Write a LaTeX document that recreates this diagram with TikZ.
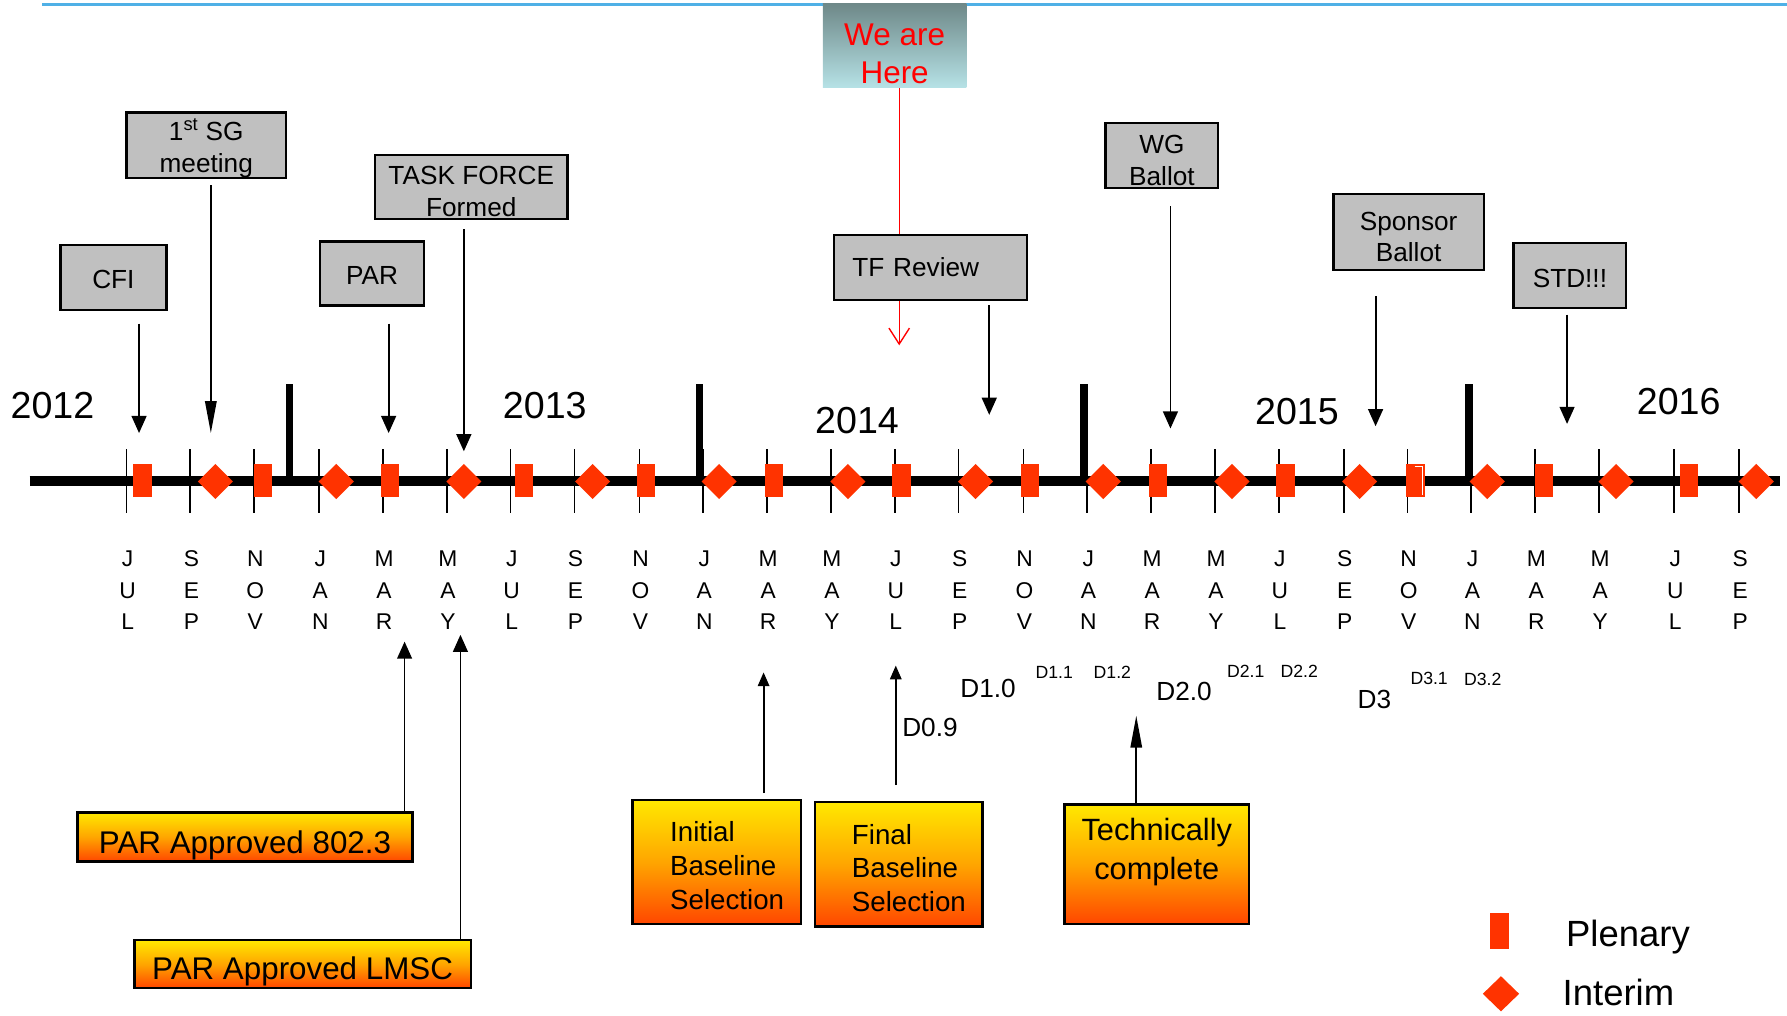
\documentclass[tikz,border=0pt]{standalone}
\usepackage{fontspec}
\setmainfont{Liberation Sans}
\usetikzlibrary{arrows.meta,shapes.geometric}
\tikzset{>=Latex}
\definecolor{markred}{RGB}{255,51,0}
\definecolor{boxgray}{RGB}{192,192,192}
\definecolor{topline}{RGB}{79,176,230}
\definecolor{heretop}{RGB}{110,136,136}
\definecolor{herebot}{RGB}{182,226,230}
\definecolor{goldtop}{RGB}{255,232,0}
\definecolor{goldmid}{RGB}{255,165,0}
\definecolor{goldbot}{RGB}{255,70,0}
\newcommand{\fsz}[2]{\fontsize{#1}{#2}\selectfont}
\newcommand{\lpad}{\hspace*{18pt}}
\newcommand{\tall}[1]{\rule{0pt}{#1}}

\begin{document}
\begin{tikzpicture}[x=1pt,y=-1pt,
    graybox/.style={draw,line width=2pt,fill=boxgray,align=center,inner sep=0pt,font=\fsz{23}{28}},
    goldbox/.style={draw,line width=2pt,top color=goldtop,bottom color=goldbot,middle color=goldmid,inner sep=0pt},
    plenary/.style={rectangle,fill=markred,minimum width=16pt,minimum height=29pt,inner sep=0pt},
    interim/.style={diamond,fill=markred,minimum width=31pt,minimum height=31pt,inner sep=0pt},
    evt/.style={-{Triangle[width=13pt,length=15pt]},line width=1.6pt},
    evtlong/.style={evt,-{Triangle[width=10pt,length=28pt]}},
    evtsmall/.style={evt,-{Triangle[width=10pt,length=12pt]}},
    year/.style={inner sep=0pt,font=\fsz{33}{38}},
    drev/.style={inner sep=0pt,font=\fsz{23}{26}},
    dsub/.style={inner sep=0pt,font=\fsz{15.5}{18}}]
  \useasboundingbox (0,0) rectangle (1568,891);

  % we are here
  \draw[topline,line width=2pt] (37,4) -- (1568,4);
  \node[minimum width=126pt,minimum height=74pt,inner sep=0pt,top color=heretop,bottom color=herebot,
        text=red,align=center,font=\fsz{27.6}{33}] (here) at (785,40) {\tall{33pt}We are\\Here};
  \coordinate (here-end) at (789,303);
  \draw[red,line width=1.2pt,-{Straight Barb[width=18pt,length=14pt]}] (here.south -| here-end) -- (here-end);

  % milestones
  \node[graybox,minimum width=93pt,minimum height=57pt] (cfi) at (99.5,243.5) {\tall{19pt}CFI};
  \node[graybox,minimum width=140pt,minimum height=57pt] (sg) at (181,127.5) {\tall{25pt}1\textsuperscript{st} SG\\meeting};
  \node[graybox,minimum width=91pt,minimum height=56pt] (par) at (326.5,240) {\tall{19pt}PAR};
  \node[graybox,minimum width=169pt,minimum height=56pt] (tf) at (413.5,164) {\tall{24pt}TASK FORCE\\Formed};
  \node[graybox,minimum width=169pt,minimum height=57pt,align=left,text width=137pt,inner xsep=16pt] (tfr) at (816.5,234.5) {TF Review};
  \node[graybox,minimum width=99pt,minimum height=57pt] (wg) at (1019.5,136.5) {\tall{25pt}WG\\Ballot};
  \node[graybox,minimum width=132pt,minimum height=67pt] (sb) at (1236,203.5) {\tall{25pt}Sponsor\\Ballot};
  \node[graybox,minimum width=99pt,minimum height=57pt] (std) at (1377.5,241.5) {\tall{22pt}STD!!!};

  % timeline
  \foreach \x in {111,167,223,280,336,392,448,504,561,617,673,729,785,841,898,954,1010,1066,1122,1179,1235,1291,1347,1403,1469,1526}
    \draw[line width=1.5pt] (\x,394) -- (\x,450);
  \draw[line width=8pt] (26,422) -- (1562,422);
  \foreach \x in {254,614,951,1289}
    \draw[line width=6.5pt] (\x,337) -- (\x,422);
  \foreach \x [count=\i] in {125,231,342,460,567,679,791,904,1016,1128,1242,1355,1482}
    \node[plenary] (pl\i) at (\x,422) {};
  \foreach \x [count=\i] in {189,295,407,520,631,744,856,968,1081,1193,1305,1418,1541}
    \node[interim] (im\i) at (\x,422.5) {};
  \draw[white,line width=0.8pt] ([xshift=-9pt,yshift=-2pt]pl11.north east) -- ([xshift=-2.5pt,yshift=-2pt]pl11.north east)
    -- ([xshift=-2.5pt,yshift=2pt]pl11.south east);

  \node[year] (y2012) at (46,356) {2012};
  \node[year] (y2013) at (478,356) {2013};
  \node[year] (y2014) at (752,369) {2014};
  \node[year] (y2015) at (1138,361) {2015};
  \node[year] (y2016) at (1473,352) {2016};

  \coordinate (cfi-end) at (122,380);
  \coordinate (sg-end) at (185,380);
  \coordinate (par-end) at (341,380);
  \coordinate (tf-end) at (407,396);
  \coordinate (tfr-end) at (868,364);
  \coordinate (wg-end) at (1027,376);
  \coordinate (sb-end) at (1207,374);
  \coordinate (std-end) at (1375,372);
  \draw[evt,shorten <=11pt] (cfi.south -| cfi-end) -- (cfi-end);
  \draw[evtlong,shorten <=5pt] (sg.south -| sg-end) -- (sg-end);
  \draw[evt,shorten <=15pt] (par.south -| par-end) -- (par-end);
  \draw[evt,shorten <=8pt] (tf.south -| tf-end) -- (tf-end);
  \draw[evt,shorten <=4pt] (tfr.south -| tfr-end) -- (tfr-end);
  \draw[evt,shorten <=15pt] (wg.south -| wg-end) -- (wg-end);
  \draw[evt,shorten <=22pt] (sb.south -| sb-end) -- (sb-end);
  \draw[evt,shorten <=5pt] (std.south -| std-end) -- (std-end);

  % months
  \foreach \x/\a/\b/\c [count=\i] in {111/J/U/L,167/S/E/P,223/N/O/V,280/J/A/N,336/M/A/R,392/M/A/Y,
      448/J/U/L,504/S/E/P,561/N/O/V,617/J/A/N,673/M/A/R,729/M/A/Y,785/J/U/L,841/S/E/P,898/N/O/V,
      954/J/A/N,1010/M/A/R,1066/M/A/Y,1122/J/U/L,1179/S/E/P,1235/N/O/V,1291/J/A/N,1347/M/A/R,
      1403/M/A/Y,1469/J/U/L,1526/S/E/P}
    \node[inner sep=0pt,align=center,font=\fsz{20}{27.5}] (mon\i) at (\x+1,518) {\a\\\b\\\c};

  % drafts
  \node[drev] (d09) at (816,638) {D0.9};
  \node[drev] (d10) at (867,604) {D1.0};
  \node[dsub] (d11) at (925,590) {D1.1};
  \node[dsub] (d12) at (976,590) {D1.2};
  \node[drev] (d20) at (1039,607) {D2.0};
  \node[dsub] (d21) at (1093,589) {D2.1};
  \node[dsub] (d22) at (1140,589) {D2.2};
  \node[drev] (d30) at (1206,614) {D3};
  \node[dsub] (d31) at (1254,595) {D3.1};
  \node[dsub] (d32) at (1301,596) {D3.2};

  % approvals and baselines
  \node[goldbox,minimum width=294pt,minimum height=43pt,font=\fsz{27.5}{32}] (pa8023) at (215,734.5) {\tall{34pt}PAR Approved 802.3};
  \node[goldbox,minimum width=295pt,minimum height=42pt,font=\fsz{27.5}{32}] (palmsc) at (265.5,846) {\tall{32pt}PAR Approved LMSC};
  \node[goldbox,minimum width=148pt,minimum height=109pt,align=left,font=\fsz{24.3}{30}] (ibs) at (629,756.5) {\lpad\tall{24pt}Initial\\\lpad Baseline\\\lpad Selection};
  \node[goldbox,minimum width=147pt,minimum height=109pt,align=left,font=\fsz{24.3}{29}] (fbs) at (788.5,758.5) {\lpad\tall{24pt}Final\\\lpad Baseline\\\lpad Selection};
  \node[goldbox,minimum width=162pt,minimum height=105pt,align=center,font=\fsz{27}{34}] (tc) at (1015,758.5) {Technically\\complete\rule[-28pt]{0pt}{0pt}};

  \coordinate (pa8023-end) at (355,563);
  \coordinate (palmsc-end) at (404,557);
  \coordinate (ibs-end) at (670,590);
  \coordinate (fbs-end) at (786,584);
  \coordinate (tc-end) at (997,628);
  \draw[evt] (pa8023.north -| pa8023-end) -- (pa8023-end);
  \draw[evt] (palmsc.north -| palmsc-end) -- (palmsc-end);
  \draw[evtsmall,shorten <=5pt] (ibs.north -| ibs-end) -- (ibs-end);
  \draw[evtsmall,shorten <=14pt] (fbs.north -| fbs-end) -- (fbs-end);
  \draw[evtlong] (tc.north -| tc-end) -- (tc-end);

  % legend
  \node[plenary,minimum width=17pt,minimum height=31pt] (legpl) at (1315.5,817) {};
  \node[inner sep=0pt,anchor=west,font=\fsz{32}{38}] (legpltxt) at (1374,822) {Plenary};
  \node[interim,minimum width=32pt,minimum height=31pt] (legim) at (1317,872) {};
  \node[inner sep=0pt,anchor=west,font=\fsz{32}{38}] (legimtxt) at (1371,871) {Interim};
\end{tikzpicture}
\end{document}
